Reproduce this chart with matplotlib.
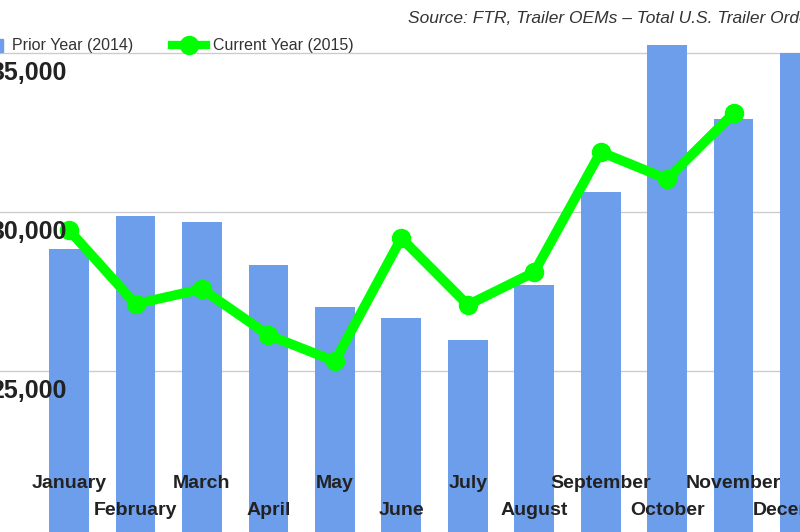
# trailer orders, 2014 vs 2015, cropped view like the reference
import numpy as np
import matplotlib.pyplot as plt
from matplotlib.lines import Line2D

months = ["January", "February", "March", "April", "May", "June", "July",
          "August", "September", "October", "November", "December"]
prior_2014 = [28840, 29870, 29690, 28330, 27010, 26670, 25980, 27700, 30630, 35250, 32930, 35000]
current_2015 = [29430, 27110, 27580, 26130, 25310, 29180, 27080, 28110, 31890, 31040, 33110]
ytick_vals = [25000, 30000, 35000]

plt.rcParams['font.family'] = ['Liberation Sans', 'DejaVu Sans']

fig = plt.figure(figsize=(8, 5.32), dpi=100)
ax = fig.add_axes([0, 0, 1, 1])
x = np.arange(len(months))

for v in ytick_vals:
    ax.axhline(v, color='#cccccc', lw=1, zorder=0)
ax.bar(x, prior_2014, width=0.6, color='#6d9eeb', zorder=2)
ax.plot(x[:len(current_2015)], current_2015, color='#00ff00', lw=7,
        marker='o', ms=13, zorder=3, solid_capstyle='round')

ax.set_xlim(-1.04, 11.0)
ax.set_ylim(19940, 36670)
ax.axis('off')

# y labels, partly cut off by the left edge
for v in ytick_vals:
    ax.text(-0.04, v - 250, f"{v:,}", ha='right', va='top',
            fontsize=18, fontweight='bold', color='#222222')

# month labels in two staggered rows
for i, m in enumerate(months):
    yy = 0.092 if i % 2 == 0 else 0.041
    ax.text(i, yy, m, transform=ax.get_xaxis_transform(), ha='center', va='center',
            fontsize=14, fontweight='bold', color='#222222', zorder=4)

# legend drawn by hand
fig.text(0.015, 0.915, "Prior Year (2014)", fontsize=11.5, color='#333333', va='center')
fig.patches.append(plt.Rectangle((-0.01, 0.903), 0.014, 0.024, color='#6d9eeb',
                                 transform=fig.transFigure, figure=fig))
fig.lines.append(Line2D([0.215, 0.257], [0.915, 0.915], color='#00ff00', lw=6,
                        transform=fig.transFigure))
fig.lines.append(Line2D([0.236], [0.915], color='#00ff00', marker='o', ms=13,
                        transform=fig.transFigure))
fig.text(0.266, 0.915, "Current Year (2015)", fontsize=11.5, color='#333333', va='center')

fig.text(0.51, 0.965, "Source: FTR, Trailer OEMs \u2013 Total U.S. Trailer Orders",
         fontsize=12.5, style='italic', color='#333333', va='center')

fig.savefig("out.png", dpi=100)
